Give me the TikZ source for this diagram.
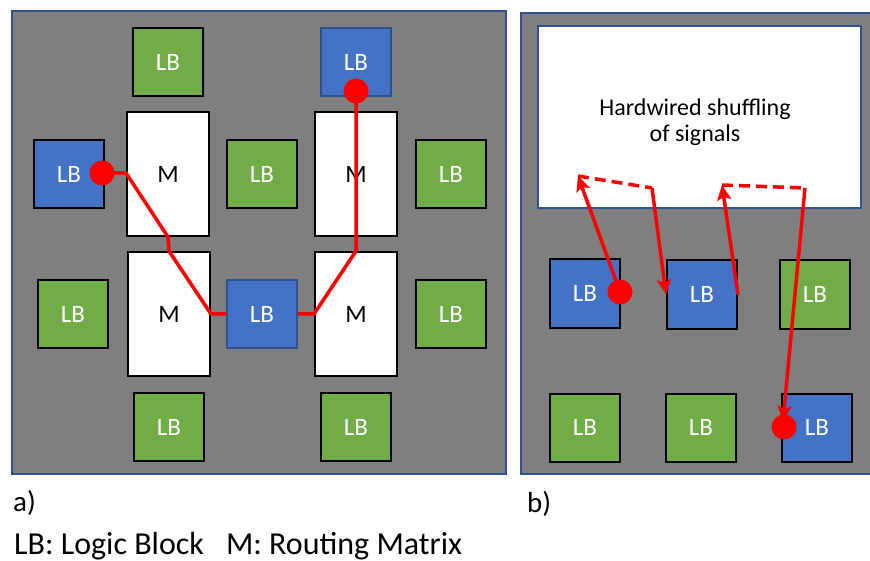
\documentclass[tikz,border=0pt]{standalone}
\usepackage{fontspec}
\setmainfont{Carlito}
\usetikzlibrary{arrows.meta}
\definecolor{lbgreen}{HTML}{70AD47}
\definecolor{lbblue}{HTML}{4472C4}
\definecolor{frameblue}{HTML}{2F528F}
\definecolor{chipgray}{HTML}{7F7F7F}
\tikzset{
  lb/.style={draw=black,line width=2pt,fill=lbgreen,text=white,minimum width=70pt,minimum height=68pt,inner sep=0pt,font=\fontsize{25}{28}\selectfont},
  lbsel/.style={lb,fill=lbblue},
  mat/.style={draw=black,line width=2pt,fill=white,minimum width=82pt,minimum height=124pt,inner sep=0pt,font=\fontsize{25}{28}\selectfont},
  pin/.style={circle,fill=red,minimum size=25pt,inner sep=0pt},
  wire/.style={red,line width=3.5pt},
  hop/.style={wire,dash pattern=on 11pt off 6pt},
  caption/.style={anchor=base west,inner sep=0pt,font=\fontsize{29}{32}\selectfont},
  >={Stealth[length=15pt,width=14pt,inset=3pt]},
}
\begin{document}
\begin{tikzpicture}[x=1pt,y=-1pt]
  \useasboundingbox (0,0) rectangle (870,561);
  % a) routing matrix fabric
  \draw[frameblue,line width=1.5pt,fill=chipgray] (12,11) rectangle (506,474);
  \node[lb] (ga1) at (168,62) {LB};
  \node[lbsel,draw=frameblue] (ba1) at (356,62) {LB};
  \node[lbsel] (ba2) at (69,174) {LB};
  \node[mat] (m1) at (168,174) {M};
  \node[lb] (ga2) at (262,174) {LB};
  \node[mat] (m2) at (356,174) {M};
  \node[lb] (ga3) at (451,174) {LB};
  \node[lb] (ga4) at (73,314) {LB};
  \node[mat] (m3) at (169,314) {M};
  \node[lbsel,draw=frameblue] (ba3) at (262,314) {LB};
  \node[mat] (m4) at (356,314) {M};
  \node[lb] (ga5) at (451,314) {LB};
  \node[lb] (ga6) at (169,427) {LB};
  \node[lb] (ga7) at (356,427) {LB};
  \node[pin] (pa1) at (102,173) {};
  \node[pin] (pa2) at (356,91) {};
  \draw[wire] (pa1.center) -- (m1.west |- pa1) -- (m1.south) -- (m3.north) -- (m3.east |- ba3) -- (ba3.west);
  \draw[wire] (ba3.east) -- (m4.west |- ba3) -- (m4.north) -- (m2.south) -- (pa2.center);
  % b) hardwired shuffling
  \draw[frameblue,line width=1.5pt,fill=chipgray] (521,13) rectangle (872,474);
  \node[draw=frameblue,line width=1.5pt,fill=white,minimum width=323pt,minimum height=182pt,inner sep=0pt] (shuf) at (699.5,117) {};
  \node[align=center,font=\fontsize{24}{26}\selectfont] (shuftxt) at (695,122) {Hardwired shuffling\\of signals};
  \node[lbsel] (bb1) at (585,293.5) {LB};
  \node[lbsel] (bb2) at (702,294.5) {LB};
  \node[lb] (gb1) at (815,294.5) {LB};
  \node[lb] (gb2) at (585,427.5) {LB};
  \node[lb] (gb3) at (701,427.5) {LB};
  \node[lbsel] (bb3) at (817,427.5) {LB};
  \coordinate (s1) at (578,176);
  \coordinate (s2) at (652,188);
  \coordinate (s3) at (722,185);
  \coordinate (s4) at (805,188);
  \coordinate (e4) at (783,421);
  \node[pin] (pb1) at (620,292) {};
  \node[pin] (pb2) at (784,427) {};
  \draw[wire,->] (pb1.center) -- (s1);
  \draw[hop] (s1) -- (s2);
  \draw[wire,->] (s2) -- (bb2.west);
  \draw[wire,->] (bb2.east) -- (s3);
  \draw[hop] (s3) -- (s4);
  \draw[wire,->] (s4) -- (e4);
  % captions
  \node[caption] (capa) at (13,511) {a)};
  \node[caption] (capb) at (527,512) {b)};
  \node[caption,font=\fontsize{32}{36}\selectfont] (legend) at (14,554) {LB: Logic Block\hspace{22pt}M: Routing Matrix};
\end{tikzpicture}
\end{document}
